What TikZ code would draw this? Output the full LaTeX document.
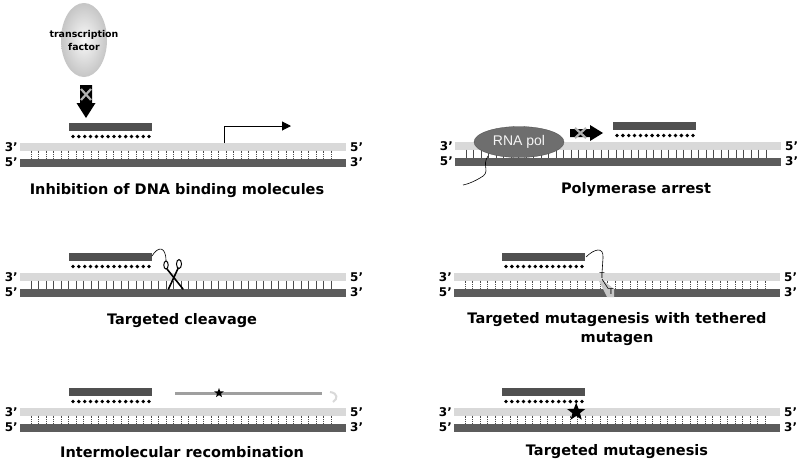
\documentclass[tikz,border=0pt]{standalone}
\usepackage{fontspec}
\setmainfont{DejaVu Sans}
\newfontfamily\polfont{Liberation Sans}
\usetikzlibrary{shapes.geometric,arrows.meta,calc}
\definecolor{strandlight}{HTML}{D9D9D9}
\definecolor{stranddark}{HTML}{5C5C5C}
\definecolor{oligodark}{HTML}{505050}
\definecolor{polgray}{HTML}{6E6E6E}
\tikzset{
    topstrand/.style = {fill=strandlight, draw=none},
    botstrand/.style = {fill=stranddark, draw=none},
    rung/.style = {draw=black!70, line width=0.4pt},
    dotrung/.style = {rung, dash pattern=on 0.9pt off 0.9pt},
    endlabel/.style = {font=\bfseries\fontsize{12}{13}\selectfont, inner sep=0pt},
    title/.style = {font=\bfseries\fontsize{14.5}{19}\selectfont, align=center},
    oligo/.style = {fill=oligodark, draw=none},
    blockarrow/.style = {fill=black, draw=none},
    cross/.style = {draw=gray!60, line width=2.2pt},
    wire/.style = {draw=black, line width=0.6pt},
    tbase/.style = {font=\fontsize{8}{9}\selectfont, inner sep=0pt},
    mark star/.style = {star, star points=5, star point ratio=2.4, fill=black, inner sep=0pt}
}
% double strand, left end of the top strand at the origin
\newcommand{\duplex}[2]{%
  \fill[topstrand] (0,0) rectangle (326,7.5);
  \fill[botstrand] (0,15.5) rectangle (326,23.5);
  \foreach \k in {0,...,40}
    \draw[#2] ({11+7.5*\k},7.5) -- ({11+7.5*\k},15.5);
  \node[endlabel, anchor=east] (#1l3) at (-2,3.75) {3’};
  \node[endlabel, anchor=east] (#1l5) at (-2,19.5) {5’};
  \node[endlabel, anchor=west] (#1r5) at (330,3.75) {5’};
  \node[endlabel, anchor=west] (#1r3) at (330,19.5) {3’};
}
% oligo bar with its bases
\newcommand{\oligo}[1]{%
  \fill[oligo] (#1,-20) rectangle ++(83,8);
  \foreach \k in {0,...,13}
    \fill ({#1+4+5.85*\k},-6.5) circle[radius=1.9pt];
}

\begin{document}
\begin{tikzpicture}[x=1pt,y=-1pt]
    \fill[white] (0,0) rectangle (800,464);
    \useasboundingbox (0,0) rectangle (800,464);

    % inhibition of DNA binding molecules
    \begin{scope}[shift={(20,143)}]
        \duplex{a}{dotrung}
        \oligo{49}
    \end{scope}
    \shade[inner color=gray!5, outer color=gray!45] (84,40) ellipse (23 and 37);
    \node[align=center, font=\bfseries\fontsize{9.4}{13}\selectfont] (tf) at (84,40) {transcription\\factor};
    \fill[blockarrow] (80,85) -- (92,85) -- (92,103) -- (95.5,103) -- (86,118) -- (76.5,103) -- (80,103) -- cycle;
    \draw[cross] (81,89) -- (91,100) (91,89) -- (81,100);
    \coordinate (tss) at (224,143);
    \coordinate (tssend) at (291,126);
    \draw[-{Triangle[length=9pt,width=9pt]}, line width=1pt] (tss) |- (tssend);
    \node[title] (ta) at (177,191) {Inhibition of DNA binding molecules};

    % polymerase arrest
    \begin{scope}[shift={(455,142)}]
        \duplex{b}{rung}
        \oligo{158}
    \end{scope}
    \coordinate (tail) at (463,185);
    \node[ellipse, minimum width=90pt, minimum height=31pt, inner sep=0pt, fill=polgray, draw=gray!60!black,
          line width=0.3pt, text=gray!8, font=\polfont\fontsize{14}{16}\selectfont] (pol) at (519,142) {RNA pol};
    \draw[wire] (488,156) .. controls (481,166) and (492,172) .. (480,178) .. controls (473,182) and (468,184) .. (tail);
    \fill[blockarrow] (570,129) -- (590,129) -- (590,125) -- (603,133) -- (590,141) -- (590,137) -- (570,137) -- cycle;
    \draw[cross] (575,128) -- (586,138) (586,128) -- (575,138);
    \node[title] (tb) at (636,190) {Polymerase arrest};

    % targeted cleavage
    \begin{scope}[shift={(20,273)}]
        \duplex{c}{rung}
        \oligo{49}
    \end{scope}
    \draw[wire] (152,256) .. controls (158,246) and (166,246) .. (166,261);
    \draw[line width=1pt] (166,265) ellipse (2.2 and 4);
    \draw[line width=1pt] (179,264) ellipse (2.5 and 4.5);
    \draw[line width=1.6pt, line cap=round] (167,269) -- (183,289);
    \draw[line width=1.6pt, line cap=round] (178,268.5) -- (168.5,289);
    \node[title] (tc) at (182,321) {Targeted cleavage};

    % targeted mutagenesis with tethered mutagen
    \begin{scope}[shift={(454,273)}]
        \duplex{d}{dotrung}
        \oligo{48}
    \end{scope}
    \fill[gray!45] (599,281) -- (604,281) -- (614,289) -- (614,297) -- (607,297) -- cycle;
    \node[tbase] (tup) at (602,276) {T};
    \node[tbase] (tdown) at (611,292) {T};
    \draw[wire] (586,257) .. controls (594,249) and (604,246) .. (603,258) -- (tup.north);
    \draw[wire] (tup.south) -- (tdown.north west);
    \node[title] (td) at (617,329) {Targeted mutagenesis with tethered\\mutagen};

    % intermolecular recombination
    \begin{scope}[shift={(20,408)}]
        \duplex{e}{dotrung}
        \oligo{49}
    \end{scope}
    \coordinate (donorstart) at (175,393);
    \coordinate (donorend) at (322,393);
    \draw[line width=3pt, color=gray!75] (donorstart) -- (donorend);
    \node[mark star, minimum size=10pt] (estar) at (219,393) {};
    \draw[line width=2pt, color=gray!30] (330,392) .. controls (338,393) and (338,399) .. (333,402);
    \node[title] (te) at (182,452) {Intermolecular recombination};

    % targeted mutagenesis
    \begin{scope}[shift={(454,408)}]
        \duplex{f}{dotrung}
        \oligo{48}
    \end{scope}
    \node[mark star, minimum size=19pt] (fstar) at (576.2,412) {};
    \draw[line width=0.8pt] (576.2,401.5) -- (fstar.north);
    \node[title] (tf2) at (617,452) {Targeted mutagenesis};
\end{tikzpicture}
\end{document}
